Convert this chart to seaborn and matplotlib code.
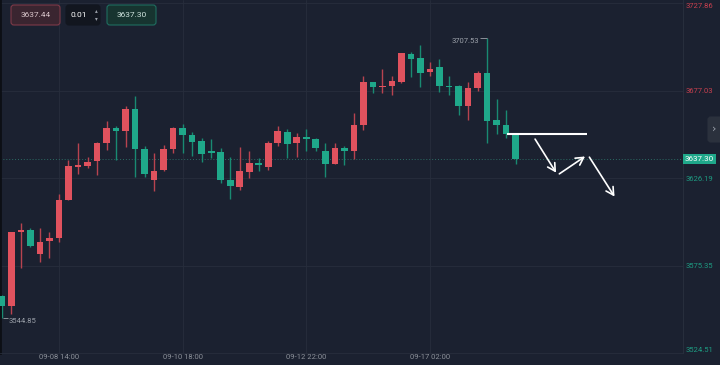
import numpy as np
import pandas as pd
import matplotlib
matplotlib.use('Agg')
import matplotlib.pyplot as plt
import matplotlib.transforms as mtransforms
from matplotlib.patches import FancyBboxPatch
import seaborn as sns

# 4h candles
opens = [3557.4, 3552.1, 3594.6, 3596.1, 3582.0, 3589.9, 3591.3, 3613.6, 3632.9, 3633.5,
         3636.4, 3646.5, 3655.6, 3653.7, 3666.5, 3643.0, 3625.2, 3631.0, 3643.0, 3655.3,
         3651.4, 3647.7, 3642.2, 3641.3, 3625.2, 3621.3, 3630.0, 3634.9, 3632.9, 3646.5,
         3652.9, 3646.5, 3650.0, 3648.9, 3642.1, 3634.5, 3643.6, 3641.7, 3657.2, 3682.0,
         3679.1, 3679.5, 3682.4, 3698.5, 3695.9, 3687.8, 3691.1, 3679.9, 3679.5, 3667.9,
         3678.6, 3687.2, 3660.1, 3657.0, 3651.8]
highs = [3558.0, 3595.0, 3600.0, 3597.1, 3597.1, 3594.6, 3617.1, 3636.8, 3646.5, 3638.4,
         3647.5, 3659.7, 3656.6, 3668.2, 3674.0, 3645.0, 3640.7, 3645.6, 3656.2, 3657.8,
         3653.3, 3649.4, 3649.0, 3643.6, 3638.4, 3644.2, 3641.7, 3637.8, 3647.9, 3656.8,
         3654.7, 3652.7, 3654.7, 3649.4, 3646.5, 3646.9, 3645.0, 3664.3, 3685.7, 3682.4,
         3689.6, 3685.7, 3698.9, 3699.8, 3703.7, 3694.0, 3695.4, 3685.7, 3680.6, 3682.4,
         3688.7, 3707.53, 3672.1, 3665.9, 3651.8]
lows = [3544.85, 3546.9, 3573.9, 3586.4, 3577.7, 3579.7, 3589.3, 3613.2, 3628.7, 3632.0,
        3628.1, 3642.6, 3636.8, 3644.2, 3627.1, 3626.8, 3619.0, 3630.4, 3640.7, 3640.7,
        3638.8, 3635.5, 3637.8, 3623.3, 3614.0, 3619.4, 3626.2, 3630.6, 3631.0, 3645.0,
        3637.8, 3638.4, 3641.7, 3641.7, 3626.8, 3634.5, 3633.9, 3637.2, 3654.3, 3676.0,
        3676.0, 3674.6, 3681.8, 3685.3, 3679.1, 3685.7, 3676.2, 3674.6, 3662.8, 3660.1,
        3677.1, 3646.5, 3651.9, 3649.5, 3634.5]
closes = [3552.1, 3594.6, 3596.1, 3586.8, 3589.3, 3591.1, 3613.6, 3633.5, 3633.7, 3635.5,
          3646.5, 3655.6, 3653.7, 3666.3, 3643.0, 3628.7, 3630.6, 3643.0, 3655.3, 3651.4,
          3647.5, 3640.1, 3641.1, 3625.2, 3621.9, 3630.4, 3634.9, 3633.7, 3646.5, 3653.5,
          3646.1, 3650.4, 3648.9, 3643.6, 3634.5, 3643.6, 3641.7, 3657.2, 3682.0, 3679.1,
          3679.9, 3682.9, 3698.9, 3695.6, 3687.5, 3689.7, 3679.9, 3679.1, 3667.9, 3678.6,
          3687.2, 3659.5, 3657.2, 3651.8, 3637.30]

tick_pos = [6, 19, 32, 45]
tick_labels = ['09-08 14:00', '09-10 18:00', '09-12 22:00', '09-17 02:00']
price_ticks = [3524.51, 3575.35, 3626.19, 3677.03, 3727.86]
last_price = 3637.30
ask_text = '3637.44'
lot_text = '0.01'
bid_text = '3637.30'

# hand-drawn forecast (candle index, price)
level_price = 3652.1
level_span = (53.1, 61.55)
arrow_starts = [(56.05, 3648.9), (58.6, 3628.7), (61.76, 3638.4)]
arrow_ends = [(58.26, 3629.4), (61.3, 3638.8), (64.4, 3615.5)]

bg = '#1b2130'
grid_c = '#272e3c'
up_c = '#e0525e'
dn_c = '#1fa88a'
up_wick = '#b8434f'
dn_wick = '#198a72'

sns.set_theme(style='dark', rc={'axes.facecolor': bg, 'figure.facecolor': bg})
plt.rcParams['font.family'] = ['Roboto', 'DejaVu Sans']

df = pd.DataFrame({'open': opens, 'high': highs, 'low': lows, 'close': closes})
df['up'] = df['close'] >= df['open']
df['bottom'] = df[['open', 'close']].min(axis=1)
df['body'] = (df['close'] - df['open']).abs().clip(lower=0.8)

fig = plt.figure(figsize=(7.2, 3.65), dpi=100)
ax = fig.add_axes([0, 12 / 365, 683 / 720, 353 / 365])

ax.vlines(df.index, df['low'], df['high'],
          colors=np.where(df['up'], up_wick, dn_wick), lw=1, zorder=2)
ax.bar(df.index, df['body'], bottom=df['bottom'], width=0.7,
       color=np.where(df['up'], up_c, dn_c), lw=0, zorder=3)

ax.set_xlim(-0.2, 71.6)
ax.set_ylim(3524.51, 3729.8)

ax.axhline(last_price, color='#2c6b64', lw=0.7, ls=(0, (1, 2)), zorder=1)

ax.set_xticks(tick_pos, tick_labels)
ax.set_yticks(price_ticks, [f'{v:.2f}' for v in price_ticks])
ax.yaxis.tick_right()
ax.tick_params(axis='x', length=0, pad=0.6, labelsize=5.5, labelcolor='#8b9099')
ax.tick_params(axis='y', length=0, pad=2.2, labelsize=5.5)
ax.grid(True, color=grid_c, lw=0.6)
for lab, v in zip(ax.get_yticklabels(), price_ticks):
    lab.set_color('#c8404f' if v > last_price else '#1e9c82')
labs = ax.get_yticklabels()
labs[0].set_va('bottom')
labs[-1].set_va('top')

for s in ['top']:
    ax.spines[s].set_visible(False)
ax.spines['right'].set_color(grid_c)
ax.spines['right'].set_linewidth(0.8)
ax.spines['bottom'].set_color(grid_c)
ax.spines['bottom'].set_linewidth(0.6)
ax.spines['left'].set_color('#0c0f15')
ax.spines['left'].set_linewidth(2)

# current price tag on the axis
blend = mtransforms.blended_transform_factory(ax.transAxes, ax.transData)
ax.text(1.003, last_price, f'{last_price:.2f}', transform=blend, ha='left', va='center',
        color='white', fontsize=5.8, clip_on=False,
        bbox=dict(boxstyle='square,pad=0.25', fc='#1fa88a', ec='none'))

# highest / lowest markers
ax.hlines(highs[51], 50.3, 51, color='#8b9099', lw=0.7)
ax.text(50.2, highs[51] - 1.6, f'{highs[51]:.2f}', ha='right', va='center',
        color='#9ca1aa', fontsize=5.5)
ax.hlines(lows[0], 0.1, 0.65, color='#8b9099', lw=0.7)
ax.text(0.75, lows[0] - 1.6, f'{lows[0]:.2f}', ha='left', va='center',
        color='#9ca1aa', fontsize=5.5)

# forecast drawing
ax.hlines(level_price, *level_span, color='white', lw=1.5, zorder=4)
for st, en in zip(arrow_starts, arrow_ends):
    ax.annotate('', xy=en, xytext=st,
                arrowprops=dict(arrowstyle='->,head_length=0.45,head_width=0.25',
                                color='white', lw=1.2, shrinkA=0, shrinkB=0), zorder=4)


def fig_box(x0, y0, x1, y1, fc, ec):
    fig.patches.append(FancyBboxPatch((x0 / 720, 1 - y1 / 365), (x1 - x0) / 720, (y1 - y0) / 365,
                                      boxstyle='round,pad=0,rounding_size=0.004',
                                      mutation_aspect=720 / 365, transform=fig.transFigure,
                                      fc=fc, ec=ec, lw=0.8, zorder=5))


fig_box(11, 5, 60, 25, '#3a2530', '#7e3a48')
fig.text(35.5 / 720, 1 - 15 / 365, ask_text, ha='center', va='center', color='#d9c6cb', fontsize=6, zorder=6)
fig_box(66, 5, 100, 25, '#12161f', '#12161f')
fig.text(79 / 720, 1 - 15 / 365, lot_text, ha='center', va='center', color='white', fontsize=6, zorder=6)
fig.text(96 / 720, 1 - 11 / 365, '▴', ha='center', va='center', color='#9ca1aa', fontsize=4,
         family='DejaVu Sans', zorder=6)
fig.text(96 / 720, 1 - 19 / 365, '▾', ha='center', va='center', color='#9ca1aa', fontsize=4,
         family='DejaVu Sans', zorder=6)
fig_box(107, 5, 156, 25, '#173430', '#1f6e60')
fig.text(131.5 / 720, 1 - 15 / 365, bid_text, ha='center', va='center', color='#cfe3de', fontsize=6, zorder=6)

# side tab
fig_box(708, 117, 724, 142, '#2b313d', '#2b313d')
fig.text(714 / 720, 1 - 129 / 365, '›', ha='center', va='center', color='#9aa0aa', fontsize=8,
         family=['DejaVu Sans'], zorder=6)

fig.savefig('out.png', dpi=100, facecolor=bg)
